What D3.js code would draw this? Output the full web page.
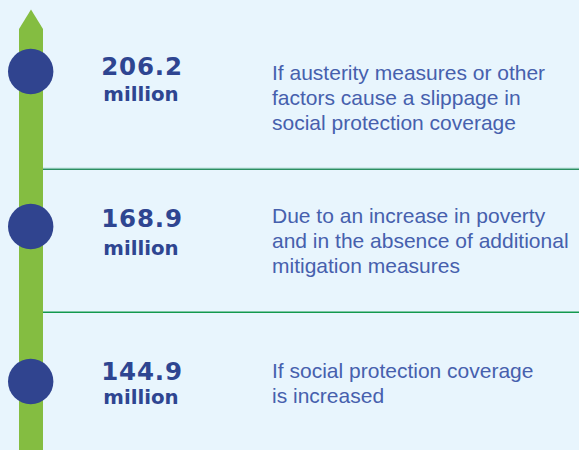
<!DOCTYPE html>
<html>
<head>
<meta charset="utf-8">
<script src="https://cdn.jsdelivr.net/npm/d3@7"></script>
<style>
  html, body { margin: 0; padding: 0; background: #e8f5fd; }
  svg { display: block; }
</style>
</head>
<body>
<div id="container"></div>
<script>
/* CONSTANTS AND GLOBALS */
const width = 579,
      height = 450;

/* DATA */
const values = [206.2, 168.9, 144.9];
const unitLabel = "million";
const descriptions = [
  ["If austerity measures or other", "factors cause a slippage in", "social protection coverage"],
  ["Due to an increase in poverty", "and in the absence of additional", "mitigation measures"],
  ["If social protection coverage", "is increased"]
];

/* LAYOUT */
const barX = 19, barW = 24, arrowTop = 9.5, arrowShoulder = 29;
const numX = 142, descX = 272, lineH = 25;
// baselines relative to the dot centre, per row
const numShift = [3.5, 0.6, -1.5];
const unitShift = [29.5, 28.3, 22.5];
const descShift = [8, -3.2, -3.2];
const dividerY = [169.3, 312.3];

const svg = d3.select("#container")
  .append("svg")
  .attr("width", width)
  .attr("height", height);

svg.append("rect")
  .attr("width", width)
  .attr("height", height)
  .attr("fill", "#e8f5fd");

/* SCALES */
const yScale = d3.scaleLinear()
  .domain([0, values.length - 1])
  .range([71.5, 381.5]);

// dividers
svg.selectAll("line.divider-glow")
  .data(dividerY.slice(0, 1))
  .join("line")
  .attr("class", "divider-glow")
  .attr("x1", barX + barW)
  .attr("x2", width)
  .attr("y1", d => d - 1.6)
  .attr("y2", d => d - 1.6)
  .attr("stroke", "#cdebea")
  .attr("stroke-width", 1);

svg.selectAll("line.divider")
  .data(dividerY)
  .join("line")
  .attr("class", "divider")
  .attr("x1", barX + barW)
  .attr("x2", width)
  .attr("y1", d => d)
  .attr("y2", d => d)
  .attr("stroke", (d, i) => i === 0 ? "#2a8f62" : "#13994e")
  .attr("stroke-width", 1.4);

// arrow bar
const cx = barX + barW / 2;
svg.append("path")
  .attr("d", d3.line()([
    [barX, height], [barX, arrowShoulder], [cx, arrowTop],
    [barX + barW, arrowShoulder], [barX + barW, height]
  ]) + "Z")
  .attr("fill", "#84bd41");

// dots
svg.selectAll("circle")
  .data(values)
  .join("circle")
  .attr("cx", cx - 0.3)
  .attr("cy", (d, i) => yScale(i))
  .attr("r", 22.7)
  .attr("fill", "#30448f");

// numbers and descriptions
const groups = svg.selectAll("g.item")
  .data(values)
  .join("g")
  .attr("class", "item")
  .attr("transform", (d, i) => `translate(0, ${yScale(i)})`);

groups.append("text")
  .attr("x", numX)
  .attr("y", (d, i) => numShift[i])
  .attr("text-anchor", "middle")
  .attr("font-family", "'DejaVu Sans', sans-serif")
  .attr("font-weight", "bold")
  .attr("font-size", 24.5)
  .attr("letter-spacing", 0.8)
  .attr("fill", "#2e4591")
  .text(d => d.toFixed(1));

groups.append("text")
  .attr("x", numX - 1)
  .attr("y", (d, i) => unitShift[i])
  .attr("text-anchor", "middle")
  .attr("font-family", "'DejaVu Sans', sans-serif")
  .attr("font-weight", "bold")
  .attr("font-size", 19.8)
  .attr("fill", "#2e4591")
  .text(unitLabel);

groups.append("text")
  .attr("font-family", "'Liberation Sans', Arial, sans-serif")
  .attr("font-size", 21)
  .attr("fill", "#4660ad")
  .selectAll("tspan")
  .data((d, i) => descriptions[i].map(t => ({t, i})))
  .join("tspan")
  .attr("x", descX)
  .attr("y", (d, j) => descShift[d.i] + j * lineH)
  .text(d => d.t);
</script>
</body>
</html>
